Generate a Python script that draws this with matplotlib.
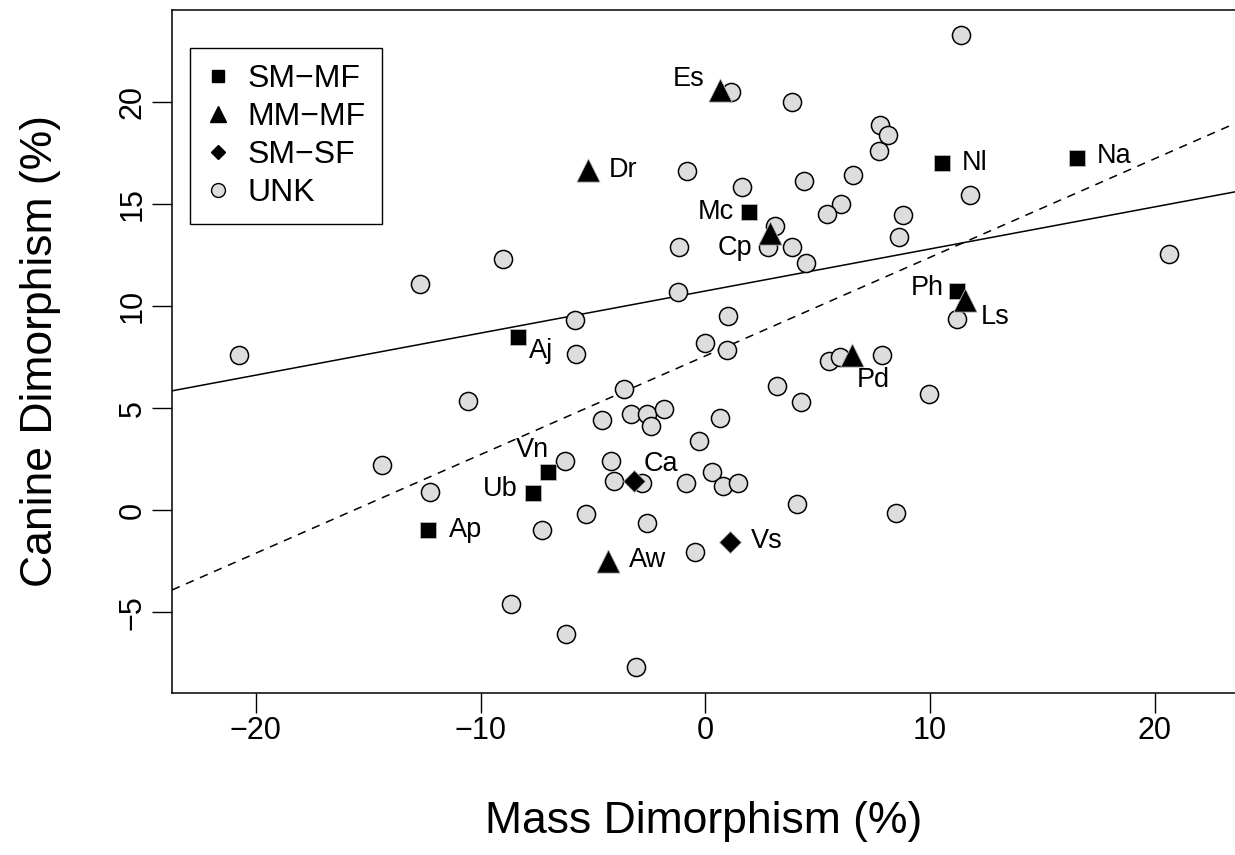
import matplotlib
matplotlib.use("Agg")
import matplotlib.pyplot as plt
from matplotlib.lines import Line2D

plt.rcParams['font.family'] = ['Liberation Sans', 'DejaVu Sans']

# unknown mating system species (grey circles)
unk_x = [11.38, 1.14, 3.85, 7.77, 8.13, 7.73, 6.57, 4.39, 1.63, 11.8, 6.03, 5.4, 8.8,
         3.1, 8.6, 2.8, 3.85, 4.5, 20.64, -0.8, -1.17, -9.0, -12.7, -1.2, 1.0, -5.8,
         -20.75, -5.75, 0.0, 0.97, 5.5, 6.0, 7.87, 3.2, 4.25, 9.95, -3.6, -10.55, -4.6,
         -3.3, -2.6, -1.85, -2.4, 0.65, -0.28, -6.25, -4.2, -4.07, -2.8, -0.85, 0.3, 0.8,
         1.45, -14.4, -12.26, -5.3, -7.27, -2.6, 4.07, 8.5, -0.46, -8.63, -6.2, -3.1,
         11.2]
unk_y = [23.28, 20.49, 20.0, 18.87, 18.38, 17.6, 16.42, 16.13, 15.84, 15.44, 15.0, 14.5, 14.45,
         13.9, 13.4, 12.9, 12.9, 12.1, 12.55, 16.6, 12.9, 12.3, 11.1, 10.7, 9.5, 9.33,
         7.6, 7.67, 8.2, 7.85, 7.3, 7.5, 7.6, 6.1, 5.3, 5.7, 5.93, 5.35, 4.4,
         4.7, 4.7, 4.97, 4.15, 4.5, 3.4, 2.4, 2.4, 1.44, 1.34, 1.34, 1.9, 1.2,
         1.34, 2.2, 0.9, -0.18, -0.96, -0.6, 0.3, -0.13, -2.04, -4.6, -6.06, -7.68,
         9.35]

# labelled species
names = ['Ap', 'Ub', 'Vn', 'Aj', 'Mc', 'Nl', 'Na', 'Ph',
         'Es', 'Dr', 'Cp', 'Ls', 'Pd', 'Aw',
         'Ca', 'Vs']
groups = ['SM-MF'] * 8 + ['MM-MF'] * 6 + ['SM-SF'] * 2
mass = [-12.34, -7.67, -7.0, -8.34, 1.94, 10.53, 16.54, 11.2,
        0.65, -5.22, 2.87, 11.56, 6.52, -4.33,
        -3.17, 1.1]
canine = [-0.96, 0.85, 1.88, 8.5, 14.6, 17.0, 17.26, 10.74,
          20.6, 16.68, 13.6, 10.3, 7.6, -2.47,
          1.43, -1.55]

# fitted lines (intercept, slope)
fit_solid = (10.74, 0.206)
fit_dashed = (7.56, 0.483)

# where each name sits relative to its marker, in pixels (right, down)
label_off = {'Ap': (38, 0), 'Ub': (-33, -4), 'Vn': (-16, -22), 'Aj': (23, 14),
             'Mc': (-33, 0), 'Nl': (33, 0), 'Na': (37, -2), 'Ph': (-30, -3),
             'Es': (-31, -11), 'Dr': (35, 0), 'Cp': (-35, 15), 'Ls': (30, 17),
             'Pd': (21, 25), 'Aw': (40, -1), 'Ca': (27, -17), 'Vs': (37, -1)}

fig = plt.figure(figsize=(12.35, 8.55), dpi=100)
ax = fig.add_axes([172 / 1235, (855 - 692.7) / 855, (1235 - 172) / 1235, (692.7 - 9.8) / 855])

ax.axline((0, fit_solid[0]), slope=fit_solid[1], color='black', lw=1.1)
ax.axline((0, fit_dashed[0]), slope=fit_dashed[1], color='black', lw=1.1, ls=(0, (5.5, 4.5)))

ax.scatter(unk_x, unk_y, s=170, marker='o', facecolor='#dddddd', edgecolor='black',
           linewidths=1.1, zorder=3)

style = {'SM-MF': dict(marker='s', s=145), 'MM-MF': dict(marker='^', s=280),
         'SM-SF': dict(marker='D', s=125)}
for g in ['SM-MF', 'MM-MF', 'SM-SF']:
    xs = [m for m, gg in zip(mass, groups) if gg == g]
    ys = [c for c, gg in zip(canine, groups) if gg == g]
    ax.scatter(xs, ys, color='black', edgecolor='#bbbbbb', linewidths=0.6, zorder=4, **style[g])

for n, xv, yv in zip(names, mass, canine):
    dx, dy = label_off[n]
    ax.annotate(n, (xv, yv), xytext=(dx * 0.72, -dy * 0.72), textcoords='offset points',
                ha='center', va='center', fontsize=19.5, zorder=5)

ax.set_xlim(-23.73, 23.57)
ax.set_ylim(-8.93, 24.51)
ax.set_xticks([-20, -10, 0, 10, 20])
ax.set_yticks([-5, 0, 5, 10, 15, 20])
ax.tick_params(axis='both', labelsize=22, length=14.5, width=1.0, direction='out', pad=2)
ax.tick_params(axis='y', labelrotation=90, pad=3)
for t in ax.get_yticklabels():
    t.set_va('center')
for sp in ax.spines.values():
    sp.set_linewidth(1.1)
ax.spines['right'].set_visible(False)

ax.set_xlabel('Mass Dimorphism (%)', fontsize=32)
ax.set_ylabel('Canine Dimorphism (%)', fontsize=32)
ax.xaxis.set_label_coords(0.5, -0.158)
ax.yaxis.set_label_coords(-0.104, 0.5)

handles = [Line2D([], [], ls='', marker='s', color='black', ms=8.5),
           Line2D([], [], ls='', marker='^', color='black', ms=11),
           Line2D([], [], ls='', marker='D', color='black', ms=7.5),
           Line2D([], [], ls='', marker='o', mfc='#dddddd', mec='black', mew=1.0, ms=10)]
leg = ax.legend(handles, ['SM\u2212MF', 'MM\u2212MF', 'SM\u2212SF', 'UNK'], loc='upper left',
                bbox_to_anchor=(18 / 1063, 1 - 38 / 683), borderaxespad=0, fontsize=23,
                frameon=True, fancybox=False, framealpha=1, edgecolor='black',
                handlelength=0.75, handletextpad=0.55, labelspacing=0.25, borderpad=0.5)
leg.get_frame().set_linewidth(1.0)

fig.savefig('out.png', dpi=100)
